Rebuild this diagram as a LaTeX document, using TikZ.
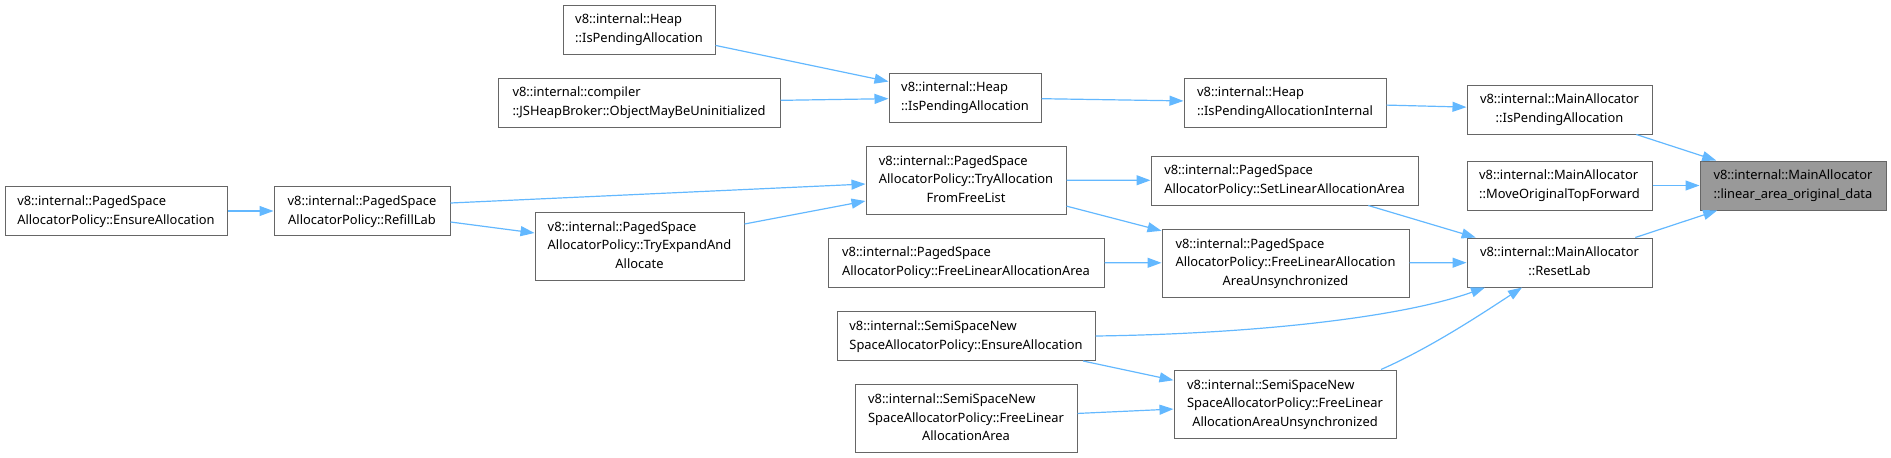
\documentclass[tikz,border=0pt]{standalone}
\usepackage{fontspec}
\setmainfont{Noto Sans}
\usetikzlibrary{arrows.meta}
\definecolor{edgeblue}{HTML}{63B8FF}
\definecolor{boxgray}{HTML}{666666}
\definecolor{hlgray}{HTML}{999999}
\newcommand\nodefont{\fontsize{12.9}{18.7}\selectfont}
\newcommand\twol[2]{\begin{tabular}{@{}l@{}}#1\\\multicolumn{1}{@{}c@{}}{#2}\end{tabular}}
\newcommand\threel[3]{\begin{tabular}{@{}l@{}}#1\\#2\\\multicolumn{1}{@{}c@{}}{#3}\end{tabular}}
\tikzset{
  box/.style={draw=boxgray, line width=1pt, fill=white, inner sep=0pt, rectangle, font=\nodefont},
  wh/.style 2 args={minimum width=#1pt, minimum height=#2pt},
  edge/.style={draw=edgeblue, line width=1.2pt, -{Triangle[length=14pt,width=10pt]}},
}
\begin{document}
\begin{tikzpicture}[x=1pt,y=-1pt]
\useasboundingbox (0,0) rectangle (1891,458);
% column 1
\node[box, wh={152}{49}] (A) at (639,29.5) {\twol{v8::internal::Heap}{::IsPendingAllocation}};
\node[box, wh={282}{49}] (B) at (639,102.5) {\twol{v8::internal::compiler}{::JSHeapBroker::ObjectMayBeUninitialized}};
\node[box, wh={209}{68}] (M) at (639.5,246) {\threel{v8::internal::PagedSpace}{AllocatorPolicy::TryExpandAnd}{Allocate}};
\node[box, wh={176}{49}] (N) at (362,211) {\twol{v8::internal::PagedSpace}{AllocatorPolicy::RefillLab}};
\node[box, wh={222}{49}] (O) at (116,211) {\twol{v8::internal::PagedSpace}{AllocatorPolicy::EnsureAllocation}};
% column 2
\node[box, wh={152}{49}] (C) at (965,97.5) {\twol{v8::internal::Heap}{::IsPendingAllocation}};
\node[box, wh={200}{68}] (L) at (966,180) {\threel{v8::internal::PagedSpace}{AllocatorPolicy::TryAllocation}{FromFreeList}};
\node[box, wh={276}{49}] (K) at (966,262.5) {\twol{v8::internal::PagedSpace}{AllocatorPolicy::FreeLinearAllocationArea}};
\node[box, wh={258}{49}] (P) at (966,336) {\twol{v8::internal::SemiSpaceNew}{SpaceAllocatorPolicy::EnsureAllocation}};
\node[box, wh={222}{68}] (R) at (966,418.5) {\threel{v8::internal::SemiSpaceNew}{SpaceAllocatorPolicy::FreeLinear}{AllocationArea}};
% column 3
\node[box, wh={202}{49}] (D) at (1285,102.5) {\twol{v8::internal::Heap}{::IsPendingAllocationInternal}};
\node[box, wh={267}{49}] (I) at (1284.5,180.5) {\twol{v8::internal::PagedSpace}{AllocatorPolicy::SetLinearAllocationArea}};
\node[box, wh={247}{68}] (J) at (1285.5,263) {\threel{v8::internal::PagedSpace}{AllocatorPolicy::FreeLinearAllocation}{AreaUnsynchronized}};
\node[box, wh={222}{68}] (Q) at (1285,404) {\threel{v8::internal::SemiSpaceNew}{SpaceAllocatorPolicy::FreeLinear}{AllocationAreaUnsynchronized}};
% column 4
\node[box, wh={185}{49}] (E) at (1559.5,109.5) {\twol{v8::internal::MainAllocator}{::IsPendingAllocation}};
\node[box, wh={185}{49}] (G) at (1559.5,185.5) {\twol{v8::internal::MainAllocator}{::MoveOriginalTopForward}};
\node[box, wh={185}{49}] (H) at (1559.5,262.5) {\twol{v8::internal::MainAllocator}{::ResetLab}};
% target
\node[box, fill=hlgray, wh={186}{49}] (F) at (1793,185.5) {\twol{v8::internal::MainAllocator}{::linear\_area\_original\_data}};
% edges
\draw[edge] (A) -- (C);
\draw[edge] (B) -- (C);
\draw[edge] (C) -- (D);
\draw[edge] (D) -- (E);
\draw[edge] (E) -- (F);
\draw[edge] (G) -- (F);
\draw[edge] (H) -- (F);
\draw[edge] (L) -- (I);
\draw[edge] (I) -- (H);
\draw[edge] (L) -- (J);
\draw[edge] (J) -- (H);
\draw[edge] (K) -- (J);
\draw[edge] (P.east) .. controls (1250,334) and (1400,318) .. ([xshift=-74.5pt]H.south);
\draw[edge] (P) -- (Q);
\draw[edge] (R) -- (Q);
\draw[edge] ([xshift=96pt]Q.north) .. controls (1430,348) and (1480,315) .. ([xshift=-37.5pt]H.south);
\draw[edge] ([yshift=8pt]N.east) -- ([yshift=-4pt]L.west);
\draw[edge] ([yshift=-11pt]N.east) -- ([yshift=13pt]M.west);
\draw[edge] ([yshift=22pt]M.east) -- ([yshift=-21pt]L.west);
\draw[edge] (O) -- (N);
\end{tikzpicture}
\end{document}
